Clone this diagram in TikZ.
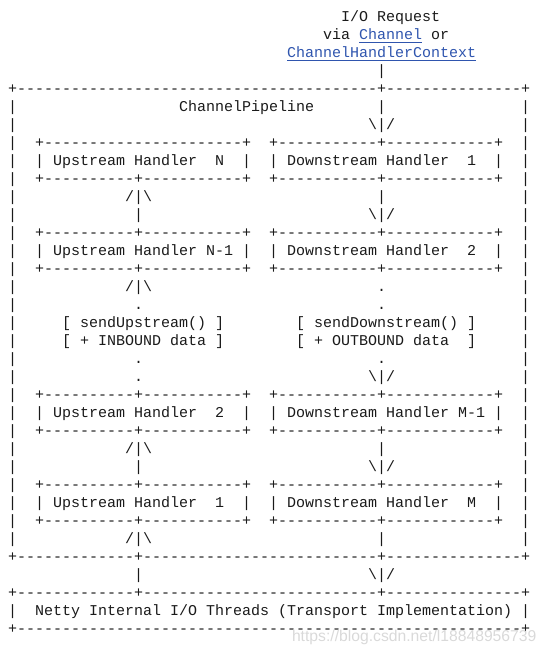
\documentclass[tikz,border=0pt]{standalone}
\usepackage{fontspec}
\setmonofont{Liberation Mono}
\newfontfamily\wmfont{Liberation Sans}
\ExplSyntaxOn
\cs_new:Npn \DashRun #1 { \prg_replicate:nn {#1} {-} }
\ExplSyntaxOff
\definecolor{ink}{HTML}{1A1A1A}
\definecolor{linkblue}{HTML}{2F55AE}
\definecolor{wmgray}{HTML}{D9D9D9}
\tikzset{
  txt/.style={anchor=base west, inner sep=0pt, outer sep=0pt,
    font=\ttfamily\fontsize{15}{18}\selectfont, text=ink},
  linktxt/.style={txt, text=linkblue},
  linkline/.style={draw=linkblue, line width=1pt},
  wmark/.style={anchor=base west, inner sep=0pt, outer sep=0pt,
    font=\wmfont\fontsize{15.7}{18}\selectfont, text=wmgray}
}
% name, column, row, text
\newcommand\ascii[4]{\node[txt] (#1) at ({8.2+9*#2},{-21.3-18*#3}) {\frenchspacing #4};}
\newcommand\asciilink[4]{\node[linktxt] (#1) at ({8.2+9*#2},{-21.3-18*#3}) {#4};
  \draw[linkline] ([yshift=-3.4pt]#1.base west) -- ([yshift=-3.4pt]#1.base east);}
\newcommand\BoxEdge{|~~+\DashRun{10}+\DashRun{11}+~~+\DashRun{11}+\DashRun{12}+~~|}
\newcommand\LowEdge{+\DashRun{13}+\DashRun{26}+\DashRun{15}+}
\begin{document}
\begin{tikzpicture}[x=1pt,y=1pt]
\useasboundingbox (0,0) rectangle (549,-655);
% request entering the pipeline
\ascii{req}{37}{0}{I/O Request}
\ascii{via}{35}{1}{via}
\asciilink{lchannel}{39}{1}{Channel}
\ascii{or}{47}{1}{or}
\asciilink{lctx}{31}{2}{ChannelHandlerContext}
\ascii{r3}{41}{3}{|}
% pipeline frame top
\ascii{r4}{0}{4}{+\DashRun{40}+\DashRun{15}+}
\ascii{r5a}{0}{5}{|}
\ascii{pipe}{19}{5}{ChannelPipeline}
\ascii{r5b}{41}{5}{|}
\ascii{r5c}{57}{5}{|}
\ascii{r6a}{0}{6}{|}
\ascii{r6b}{40}{6}{\textbackslash|/}
\ascii{r6c}{57}{6}{|}
% handler row 1
\ascii{r7}{0}{7}{|~~+\DashRun{22}+~~+\DashRun{11}+\DashRun{12}+~~|}
\ascii{hN}{0}{8}{|~~|~Upstream~Handler~~N~~|~~|~Downstream~Handler~~1~~|~~|}
\ascii{r9}{0}{9}{\BoxEdge}
\ascii{r10a}{0}{10}{|}
\ascii{r10b}{13}{10}{/|\textbackslash}
\ascii{r10c}{41}{10}{|}
\ascii{r10d}{57}{10}{|}
\ascii{r11a}{0}{11}{|}
\ascii{r11b}{14}{11}{|}
\ascii{r11c}{40}{11}{\textbackslash|/}
\ascii{r11d}{57}{11}{|}
% handler row 2
\ascii{r12}{0}{12}{\BoxEdge}
\ascii{hN1}{0}{13}{|~~|~Upstream~Handler~N-1~|~~|~Downstream~Handler~~2~~|~~|}
\ascii{r14}{0}{14}{\BoxEdge}
\ascii{r15a}{0}{15}{|}
\ascii{r15b}{13}{15}{/|\textbackslash}
\ascii{r15c}{41}{15}{.}
\ascii{r15d}{57}{15}{|}
\ascii{r16a}{0}{16}{|}
\ascii{r16b}{14}{16}{.}
\ascii{r16c}{41}{16}{.}
\ascii{r16d}{57}{16}{|}
\ascii{r17a}{0}{17}{|}
\ascii{sendup}{6}{17}{[~sendUpstream()~]}
\ascii{senddown}{32}{17}{[~sendDownstream()~]}
\ascii{r17d}{57}{17}{|}
\ascii{r18a}{0}{18}{|}
\ascii{inb}{6}{18}{[~+~INBOUND~data~]}
\ascii{outb}{32}{18}{[~+~OUTBOUND~data~~]}
\ascii{r18d}{57}{18}{|}
\ascii{r19a}{0}{19}{|}
\ascii{r19b}{14}{19}{.}
\ascii{r19c}{41}{19}{.}
\ascii{r19d}{57}{19}{|}
\ascii{r20a}{0}{20}{|}
\ascii{r20b}{14}{20}{.}
\ascii{r20c}{40}{20}{\textbackslash|/}
\ascii{r20d}{57}{20}{|}
% handler row 3
\ascii{r21}{0}{21}{\BoxEdge}
\ascii{h2}{0}{22}{|~~|~Upstream~Handler~~2~~|~~|~Downstream~Handler~M-1~|~~|}
\ascii{r23}{0}{23}{\BoxEdge}
\ascii{r24a}{0}{24}{|}
\ascii{r24b}{13}{24}{/|\textbackslash}
\ascii{r24c}{41}{24}{|}
\ascii{r24d}{57}{24}{|}
\ascii{r25a}{0}{25}{|}
\ascii{r25b}{14}{25}{|}
\ascii{r25c}{40}{25}{\textbackslash|/}
\ascii{r25d}{57}{25}{|}
% handler row 4
\ascii{r26}{0}{26}{\BoxEdge}
\ascii{h1}{0}{27}{|~~|~Upstream~Handler~~1~~|~~|~Downstream~Handler~~M~~|~~|}
\ascii{r28}{0}{28}{\BoxEdge}
\ascii{r29a}{0}{29}{|}
\ascii{r29b}{13}{29}{/|\textbackslash}
\ascii{r29c}{41}{29}{|}
\ascii{r29d}{57}{29}{|}
% frame bottom and transport
\ascii{r30}{0}{30}{\LowEdge}
\ascii{r31a}{14}{31}{|}
\ascii{r31b}{40}{31}{\textbackslash|/}
\ascii{r32}{0}{32}{\LowEdge}
\ascii{netty}{0}{33}{|~~Netty~Internal~I/O~Threads~(Transport~Implementation)~|}
\ascii{r34}{0}{34}{+\DashRun{56}+}
% watermark
\node[wmark] (wm) at (292,-641) {https://blog.csdn.net/l18848956739};
\end{tikzpicture}
\end{document}
